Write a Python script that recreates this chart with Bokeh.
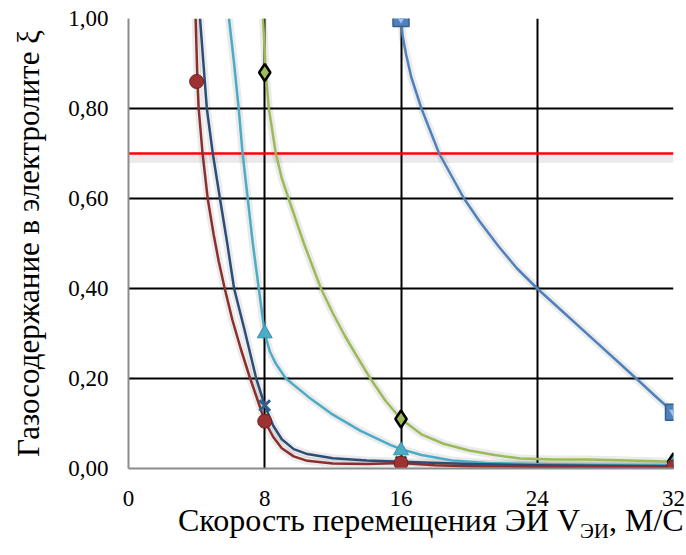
from bokeh.plotting import figure
from bokeh.models import Range1d, FixedTicker, Div
from bokeh.layouts import column
from bokeh.embed import file_html
from bokeh.resources import INLINE

# ---------------- data ----------------
x_ticks = [0, 8, 16, 24, 32]
y_ticks = [0.0, 0.2, 0.4, 0.6, 0.8, 1.0]
y_tick_labels = ["0,00", "0,20", "0,40", "0,60", "0,80", "1,00"]

# series 1 : dark red, circles
s1_mx = [4, 8, 16, 32]
s1_my = [0.86, 0.105, 0.012, 0.003]
s1_cx = [3.94, 4.05, 4.12, 4.35, 4.65, 5.0, 5.3, 5.65, 6.1, 6.6, 7.1, 7.6, 8.0, 8.5, 9.0, 9.7, 10.5,
         12.0, 14.0, 16.0, 18.0, 20.0, 24.0, 28.0, 32.0]
s1_cy = [1.0, 0.86, 0.80, 0.70, 0.60, 0.52, 0.46, 0.40, 0.33, 0.265, 0.205, 0.15, 0.105, 0.07, 0.045, 0.027, 0.017,
         0.011, 0.010, 0.012, 0.007, 0.005, 0.004, 0.003, 0.003]

# series 2 : dark blue, crosses
s2_mx = [8, 16, 32]
s2_my = [0.14, 0.015, 0.005]
s2_cx = [4.2, 4.6, 4.95, 5.37, 5.8, 6.2, 6.8, 7.5, 8.0, 8.5, 9.0, 9.7, 10.5, 12.0, 14.0, 16.0, 20.0, 24.0, 28.0, 32.0]
s2_cy = [1.0, 0.80, 0.70, 0.60, 0.50, 0.40, 0.31, 0.20, 0.14, 0.095, 0.065, 0.043, 0.032, 0.023, 0.018, 0.015,
         0.010, 0.007, 0.006, 0.005]

# series 3 : light blue, triangles
s3_mx = [8, 16, 32]
s3_my = [0.30, 0.04, 0.007]
s3_cx = [5.9, 6.2, 6.47, 6.7, 7.0, 7.3, 7.65, 8.0, 8.3, 8.65, 9.24, 10.6, 11.9, 13.6, 15.4, 16.0, 17.2, 19.0,
         21.0, 24.0, 28.0, 32.0]
s3_cy = [1.0, 0.90, 0.80, 0.70, 0.60, 0.50, 0.40, 0.30, 0.26, 0.233, 0.20, 0.158, 0.122, 0.084, 0.052, 0.043,
         0.03, 0.018, 0.012, 0.010, 0.008, 0.007]

# series 4 : green, diamonds
s4_mx = [8, 16, 32]
s4_my = [0.88, 0.11, 0.015]
s4_cx = [7.9, 8.06, 8.24, 8.65, 9.0, 9.4, 10.3, 11.3, 12.0, 12.7, 13.4, 14.2, 15.1, 16.0, 17.2, 18.5, 20.0,
         21.5, 23.0, 25.0, 27.0, 30.0, 32.0]
s4_cy = [1.0, 0.88, 0.80, 0.70, 0.645, 0.60, 0.50, 0.40, 0.345, 0.295, 0.25, 0.20, 0.15, 0.11, 0.076, 0.055,
         0.04, 0.03, 0.022, 0.02, 0.02, 0.017, 0.015]

# series 5 : blue, squares
s5_mx = [16, 32]
s5_my = [1.0, 0.125]
s5_cx = [16.0, 16.1, 16.3, 16.6, 17.2, 18.24, 19.7, 20.6, 21.7, 22.8, 24.0, 25.6, 27.4, 28.8, 30.1, 31.1, 32.0]
s5_cy = [1.0, 0.96, 0.92, 0.87, 0.80, 0.70, 0.60, 0.55, 0.495, 0.445, 0.40, 0.345, 0.283, 0.235, 0.19, 0.155, 0.125]

# threshold line
thr_x = [0, 32]
thr_y = [0.70, 0.70]

x_title_main = "Скорость перемещения ЭИ V"
x_title_sub = "ЭИ"
x_title_end = ", М/С"
y_title = "Газосодержание в электролите ξ"

# ---------------- figure ----------------
FONT = "Liberation Serif"

p = figure(width=686, height=511, output_backend="svg", toolbar_location=None,
           x_range=Range1d(0, 32), y_range=Range1d(0, 1),
           min_border_left=128, min_border_right=13, min_border_top=18, min_border_bottom=43)
p.outline_line_color = None
p.background_fill_color = "white"
p.border_fill_color = "white"

for ax in (p.xaxis[0], p.yaxis[0]):
    ax.axis_line_color = "#8c8c8c"
    ax.axis_line_width = 2
    ax.major_tick_line_color = None
    ax.minor_tick_line_color = None
    ax.major_label_text_font = FONT
    ax.major_label_text_font_size = "23px"
    ax.major_label_text_color = "black"

p.xaxis.ticker = FixedTicker(ticks=x_ticks)
p.yaxis.ticker = FixedTicker(ticks=y_ticks)
p.yaxis.major_label_overrides = {t: l for t, l in zip(y_ticks, y_tick_labels)}
p.xaxis.major_label_standoff = 16
p.yaxis.major_label_standoff = 14

p.yaxis.axis_label = y_title
p.yaxis.axis_label_text_font = FONT
p.yaxis.axis_label_text_font_style = "normal"
p.yaxis.axis_label_text_font_size = "31px"
p.yaxis.axis_label_text_color = "black"
p.yaxis.axis_label_standoff = 19

p.xgrid.ticker = FixedTicker(ticks=x_ticks)
p.ygrid.ticker = FixedTicker(ticks=y_ticks)
for g in (p.xgrid[0], p.ygrid[0]):
    g.grid_line_color = "black"
    g.grid_line_width = 2

# soft shadows under the lines
shadow = dict(line_color="black", line_alpha=0.08, line_width=8)
p.line(thr_x, [v - 0.012 for v in thr_y], **shadow)
for cx, cy in ((s1_cx, s1_cy), (s2_cx, s2_cy), (s3_cx, s3_cy), (s4_cx, s4_cy), (s5_cx, s5_cy)):
    p.line(cx, cy, **shadow)

# threshold
p.line(thr_x, thr_y, line_color="#ff0000", line_width=2.5)

# curves
p.line(s5_cx, s5_cy, line_color="#4f81bd", line_width=2.5, line_join="round")
p.line(s4_cx, s4_cy, line_color="#9bbb59", line_width=2.5, line_join="round")
p.line(s3_cx, s3_cy, line_color="#4bacc6", line_width=2.5, line_join="round")
p.line(s2_cx, s2_cy, line_color="#2c4d75", line_width=2.5, line_join="round")
p.line(s1_cx, s1_cy, line_color="#8b2e2e", line_width=2.5, line_join="round")

# markers
p.scatter(s5_mx, s5_my, marker="square", size=16, fill_color="#4f81bd", line_color="#385d8a", line_width=1.5)
p.scatter(s5_mx, s5_my, marker="inverted_triangle", size=9, fill_color="#9fc3ee", line_color=None)
p.scatter(s4_mx, s4_my, marker="diamond", size=17, fill_color="#9bbb59", line_color="black", line_width=2.5)
p.scatter(s3_mx, s3_my, marker="triangle", size=15, fill_color="#4bacc6", line_color="#3b8ea6", line_width=1)
p.scatter(s2_mx, s2_my, marker="x", size=15, line_color="#2e5f8f", line_width=3)
p.scatter(s1_mx, s1_my, marker="circle", size=14, fill_color="#9c3232", line_color="#6e1f1f", line_width=1)

# x-axis title with subscript (HTML text below the plot)
title_html = (
    f'<div style="font-family:\'{FONT}\'; font-size:32px; line-height:32px; color:black; '
    f'white-space:nowrap; position:relative; top:-7px; padding-left:178px;">'
    f'{x_title_main}<sub style="font-size:21px; line-height:0;">{x_title_sub}</sub>{x_title_end}</div>'
)
xtitle = Div(text=title_html, width=686, height=34, margin=(0, 0, 0, 0))

layout = column(p, xtitle, spacing=0)
open("out.html", "w").write(file_html(layout, INLINE))
